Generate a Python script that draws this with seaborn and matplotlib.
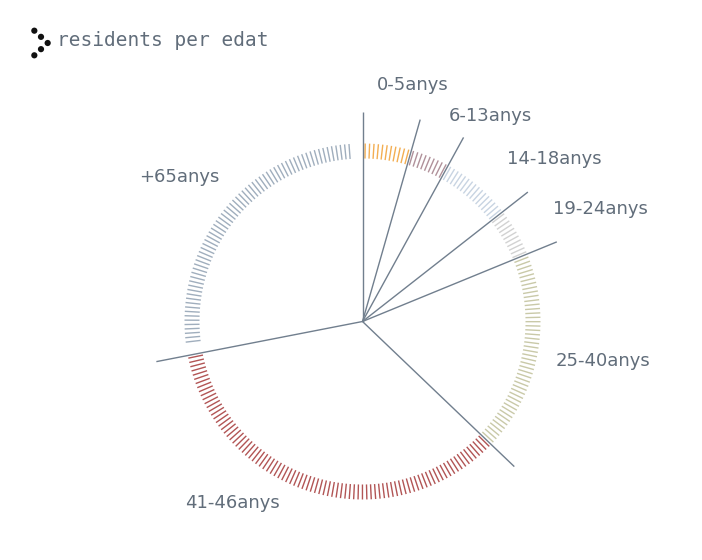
import numpy as np
import matplotlib
matplotlib.use("Agg")
import matplotlib.pyplot as plt
import seaborn as sns

# ---- data (share of residents, %) ----
groups = ["0-5anys", "6-13anys", "14-18anys", "19-24anys", "25-40anys", "41-46anys", "+65anys"]
shares = [4.43, 3.56, 6.44, 4.38, 18.33, 34.80, 28.06]
marks = [11, 9, 16, 11, 46, 88, 66]          # number of tick marks per group
colors = ["#f3ae52", "#b0919a", "#c8d4e2", "#d2d2d2", "#c9c9a8", "#b25555", "#a0aebd"]

# label placement (angle in degrees clockwise from north, radius in px)
label_angle = [3.5, 22.8, 41.6, 59.4, 101.5, 224.4, 302.9]
label_radius = [237, 223, 217.5, 221, 197.5, 254, 266]

TEXT = "#616d7a"
LINE = "#717f8e"

sns.set_theme(style="white")
plt.rcParams["font.family"] = ["DejaVu Sans"]

W, H = 702, 560
fig = plt.figure(figsize=(W / 100, H / 100), dpi=100)
cx, cy, half = 362.5, 560 - 321.5, 230
ax = fig.add_axes([(cx - half) / W, (cy - half) / H, 2 * half / W, 2 * half / H],
                  projection="polar")
ax.set_theta_zero_location("N")
ax.set_theta_direction(-1)
ax.set_ylim(0, half)
ax.set_axis_off()

total = sum(shares)
ends = np.cumsum(shares) / total * 360.0
starts = np.concatenate([[0.0], ends[:-1]])

step = 1.42
r_in, r_out = 163, 178
for s, e, n, c in zip(starts, ends, marks, colors):
    mid = (s + e) / 2
    th = mid + (np.arange(n) - (n - 1) / 2) * step
    ax.vlines(np.deg2rad(th), r_in, r_out, color=c, linewidth=1.0)

# boundary lines from centre
ax.vlines(np.deg2rad(starts), 0, 210, color=LINE, linewidth=1.0)

for g, a, r in zip(groups, label_angle, label_radius):
    ax.text(np.deg2rad(a), r, g, ha="left", va="center", fontsize=13, color=TEXT)

# title with chevron dot icon
fig.text(57 / W, 1 - 41 / H, "residents per edat", family="DejaVu Sans Mono",
         fontsize=14, color=TEXT, ha="left", va="center")
iax = fig.add_axes([31 / W, 1 - 59 / H, 20 / W, 32 / H])
k = np.arange(5)
sns.scatterplot(x=2 - np.abs(k - 2), y=-k, ax=iax, color="#111111", s=20, edgecolor="none")
iax.set_xlim(-0.5, 2.5)
iax.set_ylim(-4.6, 0.6)
iax.set_axis_off()

fig.savefig("out.png", dpi=100)
